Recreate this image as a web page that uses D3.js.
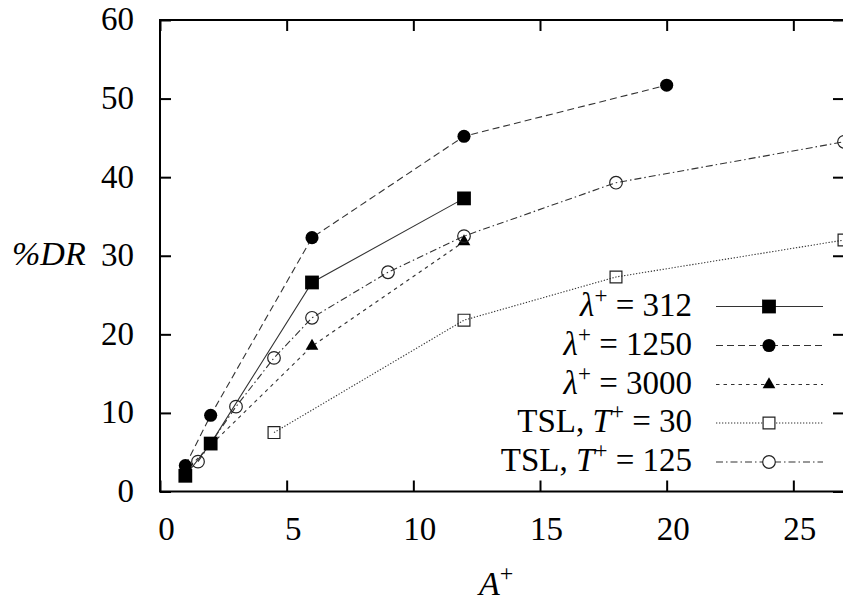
<!DOCTYPE html>
<html>
<head>
<meta charset="utf-8">
<script src="https://cdn.jsdelivr.net/npm/d3@7"></script>
<style>
  body { margin: 0; background: #fff; }
  svg { display: block; }
</style>
</head>
<body>
<div id="chart"></div>
<script>
// data: %DR against A+
var xTicks = [0, 5, 10, 15, 20, 25];
var yTicks = [0, 10, 20, 30, 40, 50, 60];

var lam312_A  = [1, 2, 6, 12];
var lam312_DR = [2.0, 6.1, 26.6, 37.3];

var lam1250_A  = [1, 2, 6, 12, 20];
var lam1250_DR = [3.3, 9.7, 32.3, 45.2, 51.7];

var lam3000_A  = [1, 2, 6, 12];
var lam3000_DR = [2.6, 5.9, 18.5, 31.8];

var tsl30_A  = [4.5, 12, 18, 27];
var tsl30_DR = [7.5, 21.8, 27.3, 32.0];

var tsl125_A  = [1.5, 3, 4.5, 6, 9, 12, 18, 27];
var tsl125_DR = [3.8, 10.8, 17.0, 22.1, 27.9, 32.5, 39.3, 44.5];

var seriesNames = ["312", "1250", "3000", "30", "125"];

var series = [
    {name: seriesNames[0], xs: lam312_A, ys: lam312_DR, dash: null, sym: d3.symbolSquare, size: 190, fill: true},
    {name: seriesNames[1], xs: lam1250_A, ys: lam1250_DR, dash: "7,4", sym: d3.symbolCircle, size: 135, fill: true},
    {name: seriesNames[2], xs: lam3000_A, ys: lam3000_DR, dash: "3.5,4", sym: d3.symbolTriangle, size: 70, fill: true},
    {name: seriesNames[3], xs: tsl30_A, ys: tsl30_DR, dash: "1.3,1.7", sym: d3.symbolSquare, size: 140, fill: false},
    {name: seriesNames[4], xs: tsl125_A, ys: tsl125_DR, dash: "7,3,1.5,3", sym: d3.symbolCircle, size: 125, fill: false}
];

var FONT = "'Liberation Serif', 'Tinos', 'Times New Roman', 'DejaVu Serif', 'Noto Serif', serif";

var W = 843, H = 608;
var margin = {top: 20, right: -1, bottom: 116.5, left: 160};

var svg = d3.select("#chart").append("svg")
    .attr("width", W)
    .attr("height", H)
    .attr("font-family", FONT);

var x = d3.scaleLinear()
    .domain([0, 27])
    .range([margin.left, W - margin.right]);

var y = d3.scaleLinear()
    .domain([0, 60])
    .range([H - margin.bottom, margin.top]);

// axes, ticks pointing inward on all four sides
var gBottom = svg.append("g")
    .attr("transform", "translate(0," + y(0) + ")")
    .call(d3.axisBottom(x).tickValues(xTicks).tickSize(-11).tickSizeOuter(0).tickFormat(d3.format("d")));
gBottom.selectAll("text")
    .attr("y", 48.5).attr("dy", 0).attr("dx", 6)
    .style("font-size", "33px");

var gLeft = svg.append("g")
    .attr("transform", "translate(" + x(0) + ",0)")
    .call(d3.axisLeft(y).tickValues(yTicks).tickSize(-11).tickSizeOuter(0).tickFormat(d3.format("d")));
gLeft.selectAll("text")
    .attr("x", -26).attr("dy", "0.3em")
    .style("font-size", "33px");

var gTop = svg.append("g")
    .attr("transform", "translate(0," + y(60) + ")")
    .call(d3.axisTop(x).tickValues(xTicks).tickSize(-11).tickSizeOuter(0).tickFormat(""));

var gRight = svg.append("g")
    .attr("transform", "translate(" + x(27) + ",0)")
    .call(d3.axisRight(y).tickValues(yTicks).tickSize(-11).tickSizeOuter(0).tickFormat(""));

svg.selectAll("g").attr("font-family", null);
svg.selectAll(".domain").remove();
svg.selectAll(".tick line").attr("stroke", "#000").attr("stroke-width", 2);

svg.append("rect")
    .attr("x", x(0)).attr("y", y(60))
    .attr("width", x(27) - x(0)).attr("height", y(0) - y(60))
    .attr("fill", "none").attr("stroke", "#000").attr("stroke-width", 2);

// axis titles
svg.append("text")
    .attr("x", 12).attr("y", 265)
    .style("font-size", "34px").style("font-style", "italic")
    .text("%DR");

var xt = svg.append("text")
    .attr("x", 479).attr("y", 595)
    .style("font-size", "34px");
xt.append("tspan").style("font-style", "italic").text("A");
xt.append("tspan").attr("dy", -14).style("font-size", "24px").text("+");

// lines and markers
var line = d3.line()
    .x(function(d) { return x(d[0]); })
    .y(function(d) { return y(d[1]); });

series.forEach(function(s) {
    var pts = s.xs.map(function(v, i) { return [v, s.ys[i]]; });
    svg.append("path")
        .datum(pts)
        .attr("d", line)
        .attr("fill", "none")
        .attr("stroke", "#333")
        .attr("stroke-width", 1.1)
        .attr("stroke-dasharray", s.dash);
});

series.forEach(function(s) {
    var pts = s.xs.map(function(v, i) { return [v, s.ys[i]]; });
    svg.selectAll(null)
        .data(pts)
        .enter().append("path")
        .attr("transform", function(d) { return "translate(" + x(d[0]) + "," + y(d[1]) + ")"; })
        .attr("d", d3.symbol().type(s.sym).size(s.size))
        .attr("fill", s.fill ? "#000" : "none")
        .attr("stroke", s.fill ? "none" : "#222")
        .attr("stroke-width", 1.2);
});

// legend
var legRows = [306.5, 345.5, 384.5, 423, 462];
var legend = svg.append("g");

series.forEach(function(s, i) {
    var ty = legRows[i] + 9;
    var t = legend.append("text")
        .attr("x", 692).attr("y", ty)
        .attr("text-anchor", "end")
        .style("font-size", "33px");
    if (i < 3) {
        t.append("tspan").style("font-style", "italic").text("λ");
    } else {
        t.append("tspan").text("TSL, ");
        t.append("tspan").style("font-style", "italic").text("T");
    }
    t.append("tspan").attr("dy", -13).style("font-size", "23px").text("+");
    t.append("tspan").attr("dy", 13).text(" = " + s.name);

    legend.append("line")
        .attr("x1", 716).attr("x2", 823)
        .attr("y1", legRows[i]).attr("y2", legRows[i])
        .attr("stroke", "#333")
        .attr("stroke-width", 1.1)
        .attr("stroke-dasharray", s.dash);
    legend.append("path")
        .attr("transform", "translate(769," + legRows[i] + ")")
        .attr("d", d3.symbol().type(s.sym).size(s.size))
        .attr("fill", s.fill ? "#000" : "#fff")
        .attr("stroke", s.fill ? "none" : "#222")
        .attr("stroke-width", 1.2);
});
</script>
</body>
</html>
